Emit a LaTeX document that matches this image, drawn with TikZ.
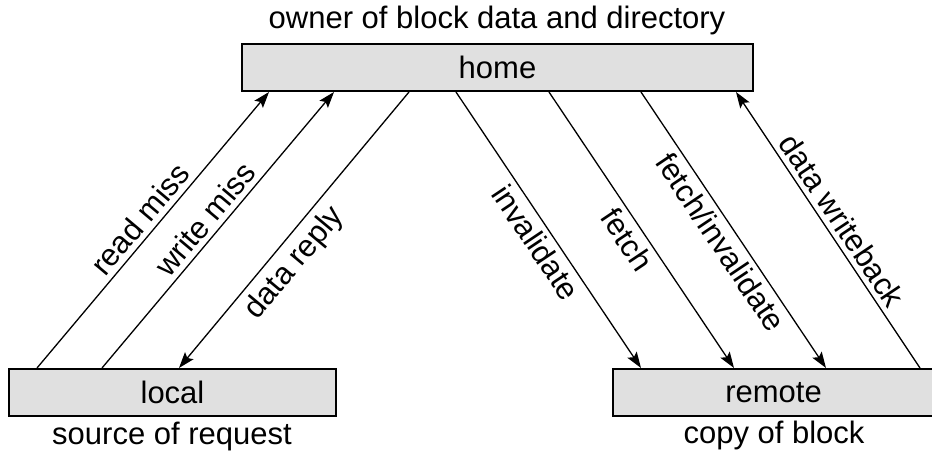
\documentclass[tikz,border=0pt]{standalone}
\usepackage{fontspec}
\setmainfont{Liberation Sans}
\usetikzlibrary{arrows.meta,positioning}
\definecolor{boxgray}{RGB}{224,224,224}
\tikzstyle{unit} = [draw, line width=2pt, fill=boxgray, minimum height=47pt, inner sep=0pt, font=\fontsize{31}{37}\selectfont]
\tikzstyle{msg} = [line width=1.3pt, -{Stealth[length=16pt,width=11pt,inset=3pt]}]
\tikzstyle{lbl} = [font=\fontsize{31}{37}\selectfont, sloped, inner sep=5pt]
\tikzstyle{caption} = [font=\fontsize{31}{37}\selectfont, anchor=base, inner sep=0pt]

\begin{document}
\begin{tikzpicture}[x=1pt,y=1pt]
\useasboundingbox (0,0) rectangle (932,456);

% Boxes
\node[unit, minimum width=511pt] (home) at (497.5,388.5) {home};
\node[unit, minimum width=327pt] (local) at (172.5,63.5) {local};
\node[unit, minimum width=321pt] (remote) at (773.5,63.5) {remote};

% Captions
\node[caption] (owner) at (497,427) {owner of block data and directory};
\node[caption] (source) at (172,12) {source of request};
\node[caption] (copy) at (774,13) {copy of block};

% Local <-> home
\draw[msg] ([xshift=29pt]local.north west) -- node[lbl, above, pos=0.50] {read miss} ([xshift=28pt]home.south west);
\draw[msg] ([xshift=94pt]local.north west) -- node[lbl, above, pos=0.50] {write miss} ([xshift=93pt]home.south west);
\draw[msg] ([xshift=168pt]home.south west) -- node[lbl, below, pos=0.57, inner sep=7pt] {data reply} ([xshift=171pt]local.north west);

% Home <-> remote
\draw[msg] ([xshift=215pt]home.south west) -- node[lbl, below, pos=0.51] {invalidate} ([xshift=29pt]remote.north west);
\draw[msg] ([xshift=308pt]home.south west) -- node[lbl, below, pos=0.50] {fetch} ([xshift=122pt]remote.north west);
\draw[msg] ([xshift=400pt]home.south west) -- node[lbl, below, pos=0.51] {fetch/invalidate} ([xshift=214pt]remote.north west);
\draw[msg] ([xshift=308pt]remote.north west) -- node[lbl, above, pos=0.50] {data writeback} ([xshift=495pt]home.south west);
\end{tikzpicture}
\end{document}
